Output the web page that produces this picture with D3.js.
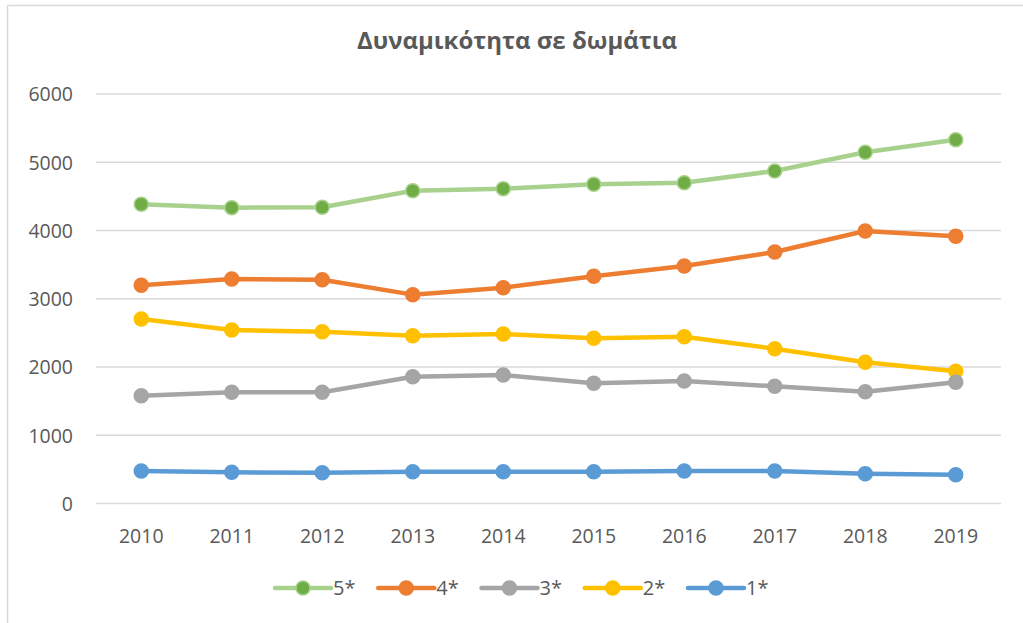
<!DOCTYPE html>
<html>
<head>
<meta charset="utf-8">
<script src="https://cdn.jsdelivr.net/npm/d3@7"></script>
<style>
  body { margin: 0; background: #fff; }
  svg { display: block; font-family: "Open Sans", "Noto Sans", sans-serif; }
</style>
</head>
<body>
<svg width="1023" height="623"></svg>
<script>
// δεδομένα
const years = ["2010", "2011", "2012", "2013", "2014", "2015", "2016", "2017", "2018", "2019"];
const star5 = [4384, 4334, 4340, 4583, 4613, 4677, 4700, 4872, 5146, 5330];
const star4 = [3197, 3289, 3279, 3060, 3162, 3329, 3480, 3685, 3993, 3915];
const star3 = [1580, 1629, 1629, 1858, 1883, 1761, 1795, 1717, 1638, 1776];
const star2 = [2703, 2542, 2518, 2459, 2484, 2420, 2444, 2268, 2069, 1937];
const star1 = [476, 457, 452, 466, 466, 466, 476, 476, 437, 422];
const seriesNames = ["5*", "4*", "3*", "2*", "1*"];
const yTicks = [0, 1000, 2000, 3000, 4000, 5000, 6000];

const series = [
  { name: "5*", values: star5, line: "#A9D18E", fill: "#70AD47", stroke: "#A9D18E" },
  { name: "4*", values: star4, line: "#ED7D31", fill: "#ED7D31", stroke: "#ED7D31" },
  { name: "3*", values: star3, line: "#A5A5A5", fill: "#A5A5A5", stroke: "#A5A5A5" },
  { name: "2*", values: star2, line: "#FFC000", fill: "#FFC000", stroke: "#FFC000" },
  { name: "1*", values: star1, line: "#5B9BD5", fill: "#5B9BD5", stroke: "#5B9BD5" }
];
// σειρά σχεδίασης (η πρώτη από κάτω)
const drawOrder = ["1*", "2*", "3*", "4*", "5*"];

const svg = d3.select("svg");
const plot = { left: 96, right: 1001, top: 94, bottom: 503.5 };

// πλαίσιο
svg.append("rect")
  .attr("x", 7.5).attr("y", 5.5)
  .attr("width", 1040).attr("height", 640)
  .attr("fill", "#fff")
  .attr("stroke", "#D9D9D9")
  .attr("stroke-width", 1.5);

const x = d3.scaleBand().domain(years).range([plot.left, plot.right]);
const y = d3.scaleLinear().domain([0, 6000]).range([plot.bottom, plot.top]);

// γραμμές πλέγματος
svg.append("g")
  .selectAll("line")
  .data(yTicks)
  .join("line")
  .attr("x1", plot.left).attr("x2", plot.right)
  .attr("y1", d => y(d)).attr("y2", d => y(d))
  .attr("stroke", "#D9D9D9")
  .attr("stroke-width", 1.3);

// άξονας y
const yAxis = svg.append("g")
  .attr("transform", `translate(${plot.left - 23},0)`)
  .call(d3.axisLeft(y).tickValues(yTicks).tickSize(0).tickPadding(0).tickFormat(d3.format("d")));
yAxis.select(".domain").remove();
yAxis.selectAll("text")
  .attr("fill", "#595959")
  .attr("font-size", 19.5)
  .attr("font-family", "'Open Sans', sans-serif")
  .attr("dy", "0.35em");

// άξονας x
const xAxis = svg.append("g")
  .attr("transform", `translate(0,${plot.bottom})`)
  .call(d3.axisBottom(x).tickSize(0).tickPadding(0));
xAxis.select(".domain").remove();
xAxis.selectAll("text")
  .attr("fill", "#595959")
  .attr("font-size", 19.5)
  .attr("font-family", "'Open Sans', sans-serif")
  .attr("dy", null)
  .attr("y", 39);

// τίτλος
svg.append("text")
  .attr("x", 517)
  .attr("y", 49)
  .attr("text-anchor", "middle")
  .attr("fill", "#595959")
  .attr("font-size", 24)
  .attr("font-weight", "bold")
  .text("Δυναμικότητα σε δωμάτια");

const cx = i => x(years[i]) + x.bandwidth() / 2;
const line = d3.line().x((d, i) => cx(i)).y(d => y(d));

const byName = Object.fromEntries(series.map(s => [s.name, s]));
drawOrder.forEach(name => {
  const s = byName[name];
  const g = svg.append("g");
  g.append("path")
    .attr("d", line(s.values))
    .attr("fill", "none")
    .attr("stroke", s.line)
    .attr("stroke-width", 4.5)
    .attr("stroke-linejoin", "round");
  g.selectAll("circle")
    .data(s.values)
    .join("circle")
    .attr("cx", (d, i) => cx(i))
    .attr("cy", d => y(d))
    .attr("r", 7)
    .attr("fill", s.fill)
    .attr("stroke", s.stroke)
    .attr("stroke-width", 1.5);
});

// υπόμνημα
const legendX = d3.scalePoint().domain(seriesNames).range([275, 688]);
const legend = svg.append("g")
  .selectAll("g")
  .data(seriesNames.map(n => byName[n]))
  .join("g")
  .attr("transform", d => `translate(${legendX(d.name)},588)`);
legend.append("line")
  .attr("x1", 0).attr("x2", 56)
  .attr("stroke", d => d.line)
  .attr("stroke-width", 4.5)
  .attr("stroke-linecap", "round");
legend.append("circle")
  .attr("cx", 28).attr("r", 7)
  .attr("fill", d => d.fill)
  .attr("stroke", d => d.stroke)
  .attr("stroke-width", 1.5);
legend.append("text")
  .attr("x", 58)
  .attr("dy", "0.35em")
  .attr("fill", "#595959")
  .attr("font-size", 20)
  .text(d => d.name);
</script>
</body>
</html>
